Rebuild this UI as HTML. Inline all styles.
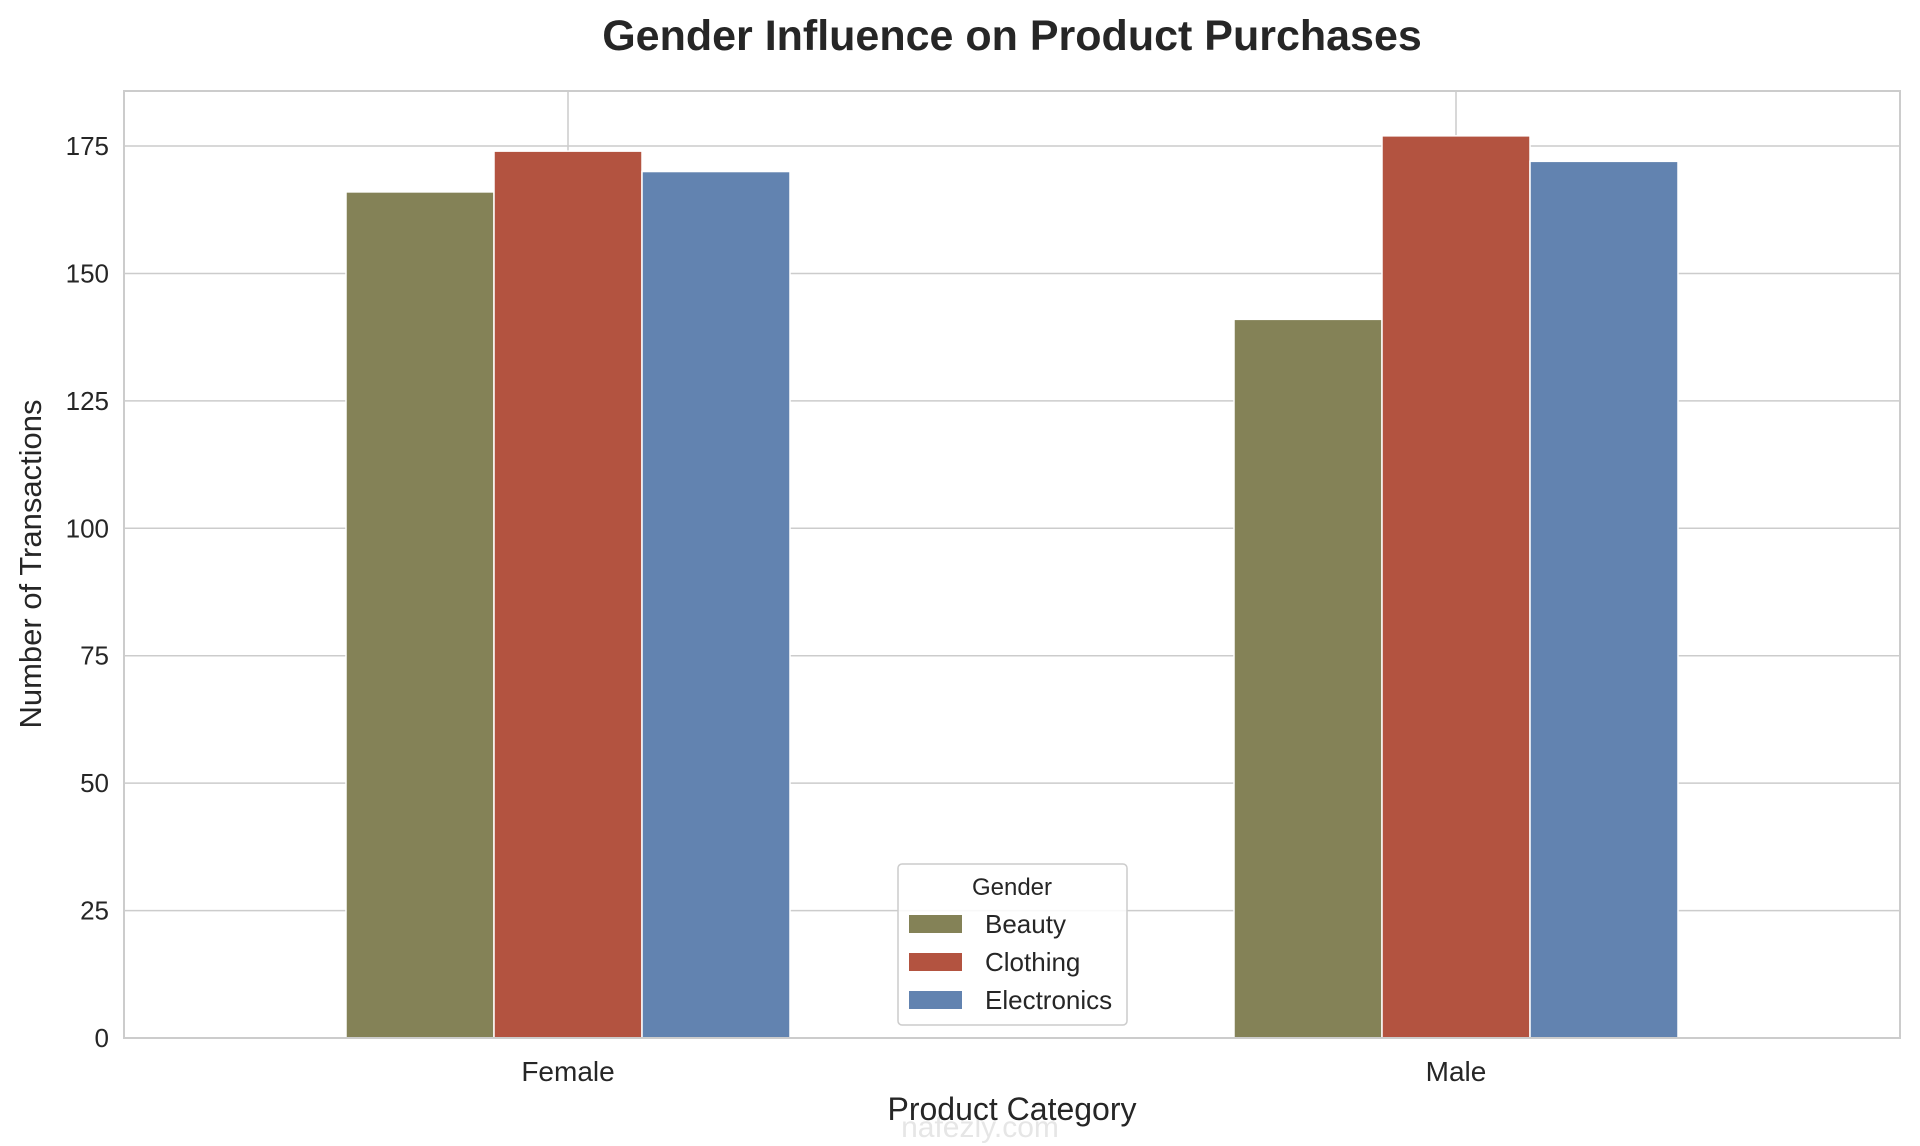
<!DOCTYPE html>
<html><head><meta charset="utf-8"><style>
html,body{margin:0;padding:0;background:#fff;}
svg{display:block;font-family:"Liberation Sans",sans-serif;}
</style></head><body>
<svg id="chart" width="1920" height="1146" viewBox="0 0 1920 1146" xmlns="http://www.w3.org/2000/svg">
<text x="1012" y="50" text-anchor="middle" font-size="43" font-weight="bold" fill="#262626">Gender Influence on Product Purchases</text>
<g id="grid"></g><g id="bars"></g><g id="axes"></g>
<text transform="translate(41,564) rotate(-90)" text-anchor="middle" font-size="31" fill="#262626">Number of Transactions</text>
<text x="980" y="1137" text-anchor="middle" font-size="30" fill="#e6e6e6">nafezly.com</text>
<text x="1012" y="1120" text-anchor="middle" font-size="32" fill="#262626">Product Category</text>
<g id="legend">
<rect x="898" y="864" width="229" height="161" rx="4" fill="#fff" fill-opacity="0.85" stroke="#cccccc" stroke-width="1.5"/>
<text x="1012" y="895" text-anchor="middle" font-size="24" fill="#262626">Gender</text>
</g>
</svg>
<script>
const categories = ["Female", "Male"];
const seriesNames = ["Beauty", "Clothing", "Electronics"];
const beauty = [166, 141];
const clothing = [174, 177];
const electronics = [170, 172];
const yTicks = [0, 25, 50, 75, 100, 125, 150, 175];

const colors = ["#848257", "#b35340", "#6283b0"];
const series = [beauty, clothing, electronics];
const L = 124, R = 1900, T = 91, B = 1038, YMAX = 185.8;
const NS = "http://www.w3.org/2000/svg";
const y = v => B - (v / YMAX) * (B - T);
const unit = (R - L) / categories.length;
const x = i => L + unit * (i + 0.5);
const groupW = unit * 0.5, barW = groupW / series.length;
function mk(tag, attrs, parent) {
  const e = document.createElementNS(NS, tag);
  for (const k in attrs) e.setAttribute(k, attrs[k]);
  document.getElementById(parent).appendChild(e);
  return e;
}
yTicks.forEach(t => {
  const ln = mk("line", {x1: L, x2: R, y1: y(t), y2: y(t), stroke: "#cccccc", "stroke-width": 1.5}, "grid");
  
  
  const tx = mk("text", {x: L - 15, y: y(t) + 9, "text-anchor": "end", "font-size": 26, fill: "#262626"}, "axes");
  tx.textContent = t;
  
  
});
categories.forEach((c, i) => {
  const ln = mk("line", {x1: x(i), x2: x(i), y1: T, y2: B, stroke: "#cccccc", "stroke-width": 1.5}, "grid");
  
  
  const tx = mk("text", {x: x(i), y: B + 43, "text-anchor": "middle", "font-size": 28, fill: "#262626"}, "axes");
  tx.textContent = c;
  
  
  series.forEach((s, j) => {
    const bx = x(i) - groupW / 2 + j * barW;
    const r = mk("rect", {x: bx, y: y(s[i]), width: barW, height: B - y(s[i]), fill: colors[j], stroke: "#fff", "stroke-width": 1.5}, "bars");
    
    
  });
});
const fr = mk("rect", {x: L, y: T, width: R - L, height: B - T, fill: "none", stroke: "#cccccc", "stroke-width": 2}, "axes");


seriesNames.forEach((n, j) => {
  const cy = 924 + j * 38;
  const sw = mk("rect", {x: 909, y: cy - 9, width: 53, height: 18, fill: colors[j]}, "legend");
  
  
  const tx = mk("text", {x: 985, y: cy + 9, "font-size": 26, fill: "#262626"}, "legend");
  tx.textContent = n;
  
  
});
</script>
</body></html>
